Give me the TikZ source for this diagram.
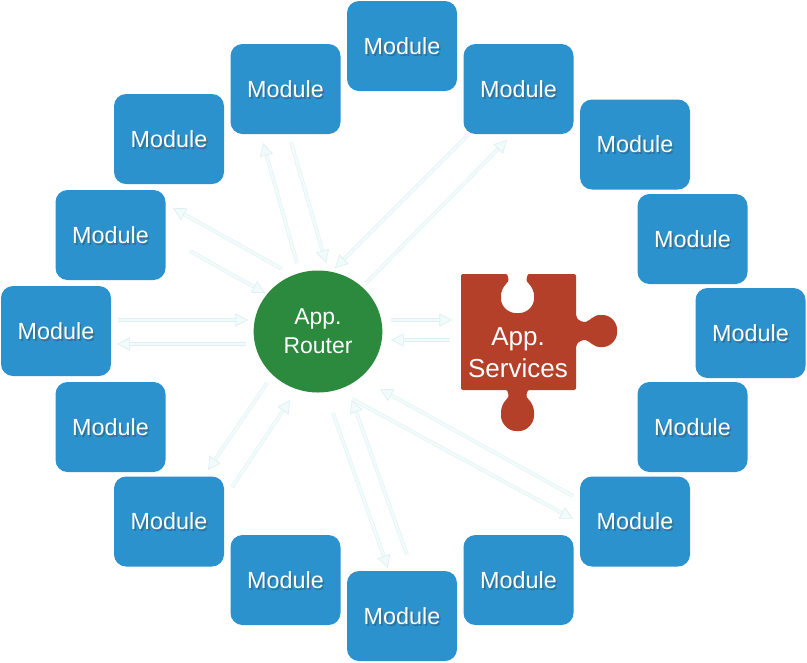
\documentclass[tikz,border=0pt]{standalone}
\usepackage{fontspec}
\setmainfont{Liberation Sans}
\usepackage{xcolor}
\definecolor{moduleBlue}{HTML}{2B92CE}
\definecolor{moduleShade}{HTML}{2F7299}
\definecolor{routerGreen}{HTML}{2B8A3E}
\definecolor{puzzleRed}{HTML}{B5402A}
\definecolor{arrowPale}{HTML}{F1FBFA}
\definecolor{arrowEdge}{HTML}{DDEFF3}
\usetikzlibrary{arrows.meta,positioning,calc,shapes.geometric}
\newcommand{\shadedWord}[1]{\rlap{\kern1.2pt\smash{\raisebox{-1.5pt}{\textcolor{moduleShade}{#1}}}}#1}
\tikzset{%
  moduleBox/.style={%
    rectangle,
    rounded corners=9pt,
    fill=moduleBlue,
    text=white,
    minimum width=82.5pt,
    minimum height=67.5pt,
    inner sep=0pt,
    font=\fontsize{17.5}{20}\selectfont
  },
  routerNode/.style={%
    ellipse,
    fill=routerGreen,
    text=white,
    minimum width=96.5pt,
    minimum height=91.5pt,
    inner sep=0pt,
    align=center,
    font=\fontsize{17.2}{22}\selectfont
  },
  paleArrow/.style={%
    -{Triangle[open,length=9.5pt,width=10pt,line width=.5pt,fill=arrowPale]},
    draw=arrowEdge,
    line width=.35pt,
    double=arrowPale,
    double distance=2pt
  }
}
\begin{document}
\begin{tikzpicture}[x=.75pt,y=-.75pt]
\useasboundingbox (0,0) rectangle (807,662);

% ring of modules
\foreach \name/\cx/\cy in {mA/402/46,mB/518.5/89,mC/635/144.5,mD/692.5/239,mE/750.5/333,mF/692.5/427,mG/635/521.5,mH/518.5/580,mI/402/616,mJ/285.5/580,mK/169/521.5,mL/110.5/427,mM/56/331,mN/110.5/235,mO/169/139,mP/285.5/89}
  \node[moduleBox] (\name) at (\cx,\cy) {\shadedWord{Module}};

\node[routerNode] (router) at (318,331.5) {App.\\Router};

% puzzle piece
\fill[puzzleRed,rounded corners=1.5pt] (461,274) -- (504,274)
  .. controls (508,274) and (509,280) .. (507,283)
  .. controls (503,287) and (501,292) .. (501,297)
  .. controls (501,306) and (508,313) .. (517.5,313)
  .. controls (527,313) and (534,306) .. (534,297)
  .. controls (534,292) and (532,287) .. (528,283)
  .. controls (526,280) and (527,274) .. (531,274)
  -- (576,274) -- (576,316)
  .. controls (578,320) and (583,323) .. (588,321)
  .. controls (592,318) and (596,315) .. (601,315)
  .. controls (610,315) and (617,322) .. (617,331)
  .. controls (617,340) and (610,347) .. (601,347)
  .. controls (596,347) and (592,344) .. (588,341)
  .. controls (583,339) and (578,342) .. (576,346)
  -- (576,390) -- (531,390)
  .. controls (527,390) and (526,396) .. (528,399)
  .. controls (532,403) and (534,408) .. (534,414)
  .. controls (534,423) and (527,431) .. (517.5,431)
  .. controls (508,431) and (501,423) .. (501,414)
  .. controls (501,408) and (503,403) .. (507,399)
  .. controls (509,396) and (508,390) .. (504,390)
  -- (461,390) -- cycle;
\node[text=white,align=center,font=\fontsize{19.5}{24}\selectfont] (services) at (518,353) {App.\\Services};

% arrows
\foreach \ax/\ay/\bx/\by [count=\i] in {%
  297/263/263/143,291/142/326/263,468/135/335/268,366/283/507/140,%
  282/269/173/208,190/251/265/293,118/320/248/320,246/344/117/344,%
  391/320/452/320,450/340/391/340,267/383/208/470,232/487/290/400,%
  333/413/388/568,407/555/352/400,352/399/573/519,573/496/380/389}{%
  \coordinate (tail\i) at (\ax,\ay);
  \coordinate (tip\i) at (\bx,\by);
  \draw[paleArrow] (tail\i) -- (tip\i);
}
\end{tikzpicture}
\end{document}
